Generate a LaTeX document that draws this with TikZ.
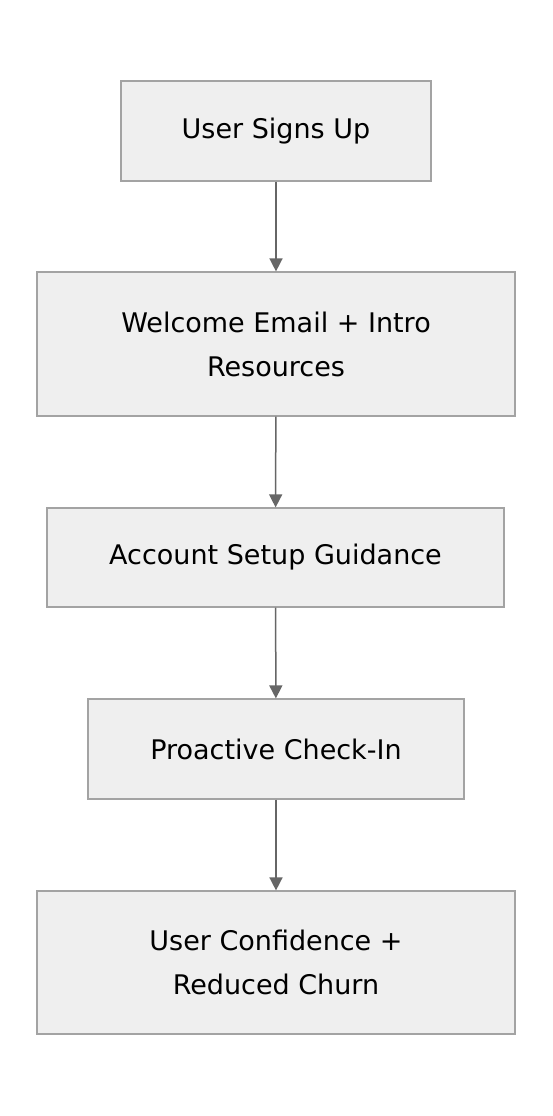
\documentclass[tikz,border=0pt]{standalone}
\usepackage{fontspec}
\setmainfont{DejaVu Sans}
\usetikzlibrary{arrows.meta}
\definecolor{boxfill}{HTML}{EFEFEF}
\definecolor{boxline}{HTML}{A3A3A3}
\definecolor{arrowcol}{HTML}{666666}
\begin{document}
\begin{tikzpicture}[x=1pt,y=1pt,
  stepbox/.style={draw=boxline,fill=boxfill,line width=1.2pt,inner sep=0pt,
    align=center,font=\fontsize{27}{44}\selectfont},
  flow/.style={draw=arrowcol,line width=1.5pt,-{Triangle[length=13pt,width=13pt]}}]
\useasboundingbox (0,0) rectangle (552,-1116);
\fill[white] (0,0) rectangle (552,-1116);
\node[stepbox,minimum width=310pt,minimum height=100pt] (a) at (276,-131) {User Signs Up};
\node[stepbox,minimum width=478pt,minimum height=144pt] (b) at (276,-344) {Welcome Email + Intro\\Resources};
\node[stepbox,minimum width=457pt,minimum height=99pt] (c) at (275.5,-557.5) {Account Setup Guidance};
\node[stepbox,minimum width=376pt,minimum height=100pt] (d) at (276,-749) {Proactive Check-In};
\node[stepbox,minimum width=478pt,minimum height=143pt] (e) at (276,-962.5) {User Confidence +\\Reduced Churn};
\draw[flow] (a) -- (b);
\draw[flow] (b) -- (c);
\draw[flow] (c) -- (d);
\draw[flow] (d) -- (e);
\end{tikzpicture}
\end{document}
